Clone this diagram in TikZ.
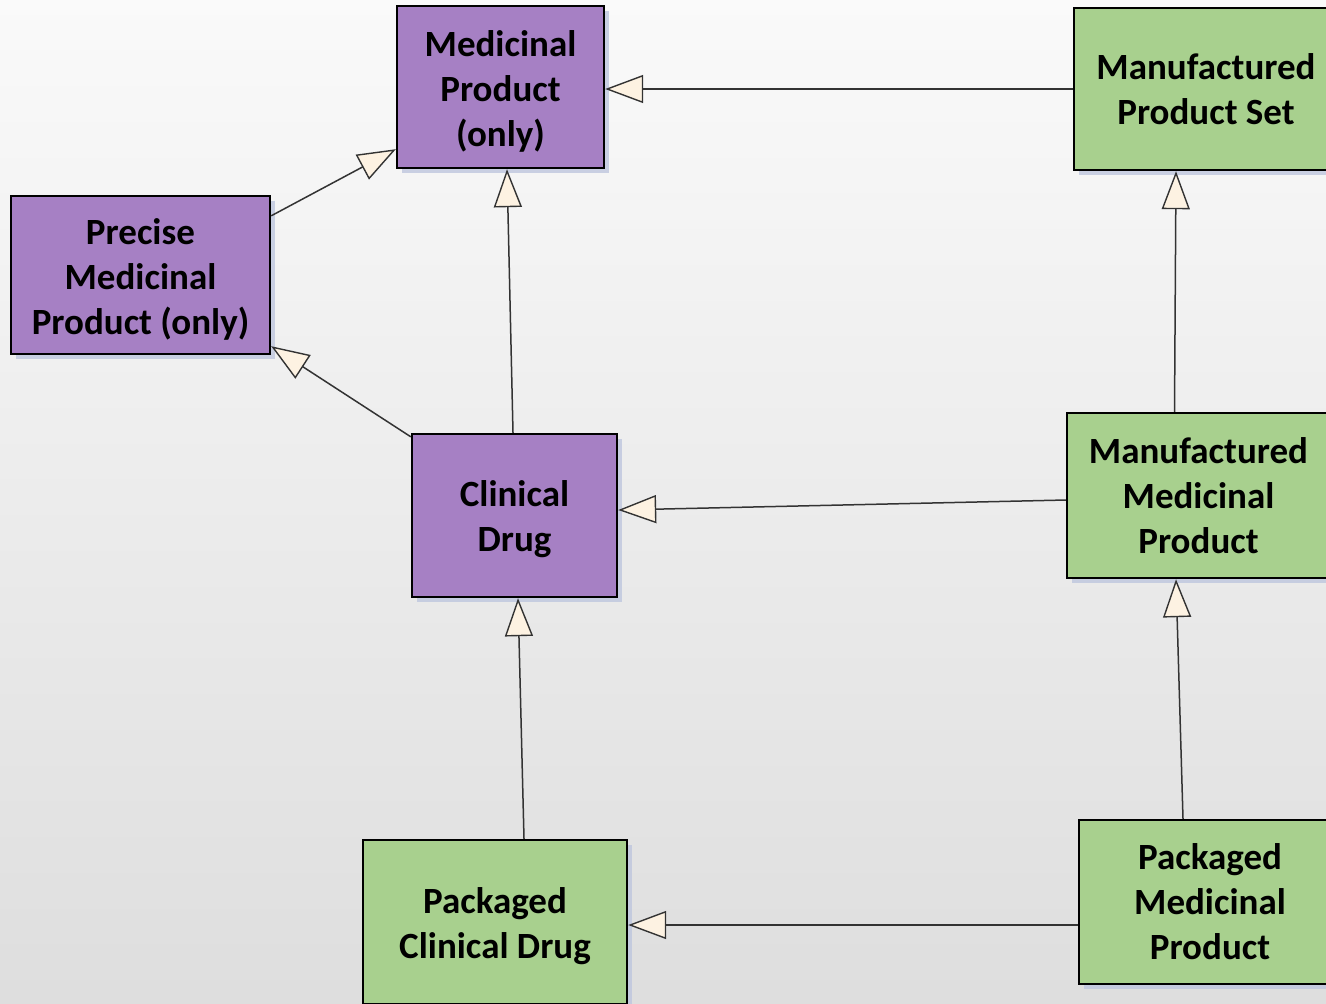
\documentclass[tikz,border=0pt]{standalone}
\usepackage{fontspec}
\setmainfont{Carlito}
\usepackage{tikz}
\usepackage{xcolor}
\usetikzlibrary{arrows.meta,shadows}

\definecolor{umlpurple}{RGB}{166,128,196}
\definecolor{umlgreen}{RGB}{168,208,142}
\definecolor{tipcream}{RGB}{253,242,226}
\definecolor{shadowblue}{RGB}{190,198,222}

\newcommand{\clstop}{\rule{0pt}{17pt}}

\begin{document}
\begin{tikzpicture}[x=0.5pt, y=-0.5pt,
    cls/.style={draw=black, line width=1.2pt, align=center, inner sep=2pt,
        font=\fontsize{18.5}{22.5}\selectfont\bfseries,
        drop shadow={shadow xshift=2.5pt, shadow yshift=-2.5pt, fill=shadowblue, opacity=0.8}},
    purplecls/.style={cls, fill=umlpurple},
    greencls/.style={cls, fill=umlgreen},
    gen/.style={line width=0.75pt, color=black!80,
        -{Triangle[open, length=19pt, width=14pt, fill=tipcream, line width=0.7pt]}}]

    \useasboundingbox (0,0) rectangle (1326,1003);
    \clip (0,0) rectangle (1326,1003);
    \fill[top color=black!2, bottom color=black!13] (0,0) rectangle (1326,1003);

    % purple classes
    \node[purplecls, minimum width=103.5pt, minimum height=81pt] (mp) at (500.5,87) {\clstop Medicinal\\Product\\(only)};
    \node[purplecls, minimum width=129.5pt, minimum height=79pt] (pmp) at (140.5,275) {\clstop Precise\\Medicinal\\Product (only)};
    \node[purplecls, minimum width=102.5pt, minimum height=81.5pt] (cd) at (514.5,515.5) {\clstop Clinical\\Drug};

    % green classes
    \node[greencls, minimum width=132pt, minimum height=81pt] (mps) at (1206,89) {Manufactured\\Product Set};
    \node[greencls, minimum width=131.5pt, minimum height=82.5pt] (mmp) at (1198.5,495.5) {Manufactured\\Medicinal\\Product};
    \node[greencls, minimum width=132pt, minimum height=82pt] (pcd) at (495,922) {\clstop Packaged\\Clinical Drug};
    \node[greencls, minimum width=131pt, minimum height=82pt] (pkmp) at (1210,902) {Packaged\\Medicinal\\Product};

    % generalisations
    \path[gen]
        (mps.west |- 0,89) edge (mp.east |- 0,89)
        ([yshift=-10.5pt]pmp.north east) edge ([yshift=10pt]mp.south west)
        ([yshift=-2pt]cd.north west) edge ([yshift=4.5pt]pmp.south east)
        ([xshift=-0.75pt]cd.north) edge ([xshift=3.25pt]mp.south)
        ([yshift=-2.25pt]mmp.west) edge ([yshift=2.75pt]cd.east)
        ([xshift=-12pt]mmp.north) edge ([xshift=-15pt]mps.south)
        ([xshift=14.5pt]pcd.north) edge ([xshift=1.75pt]cd.south)
        ([xshift=-13.5pt]pkmp.north) edge ([xshift=-11.25pt]mmp.south)
        ([yshift=-11.5pt]pkmp.west) edge ([yshift=-1.5pt]pcd.east);

\end{tikzpicture}
\end{document}
